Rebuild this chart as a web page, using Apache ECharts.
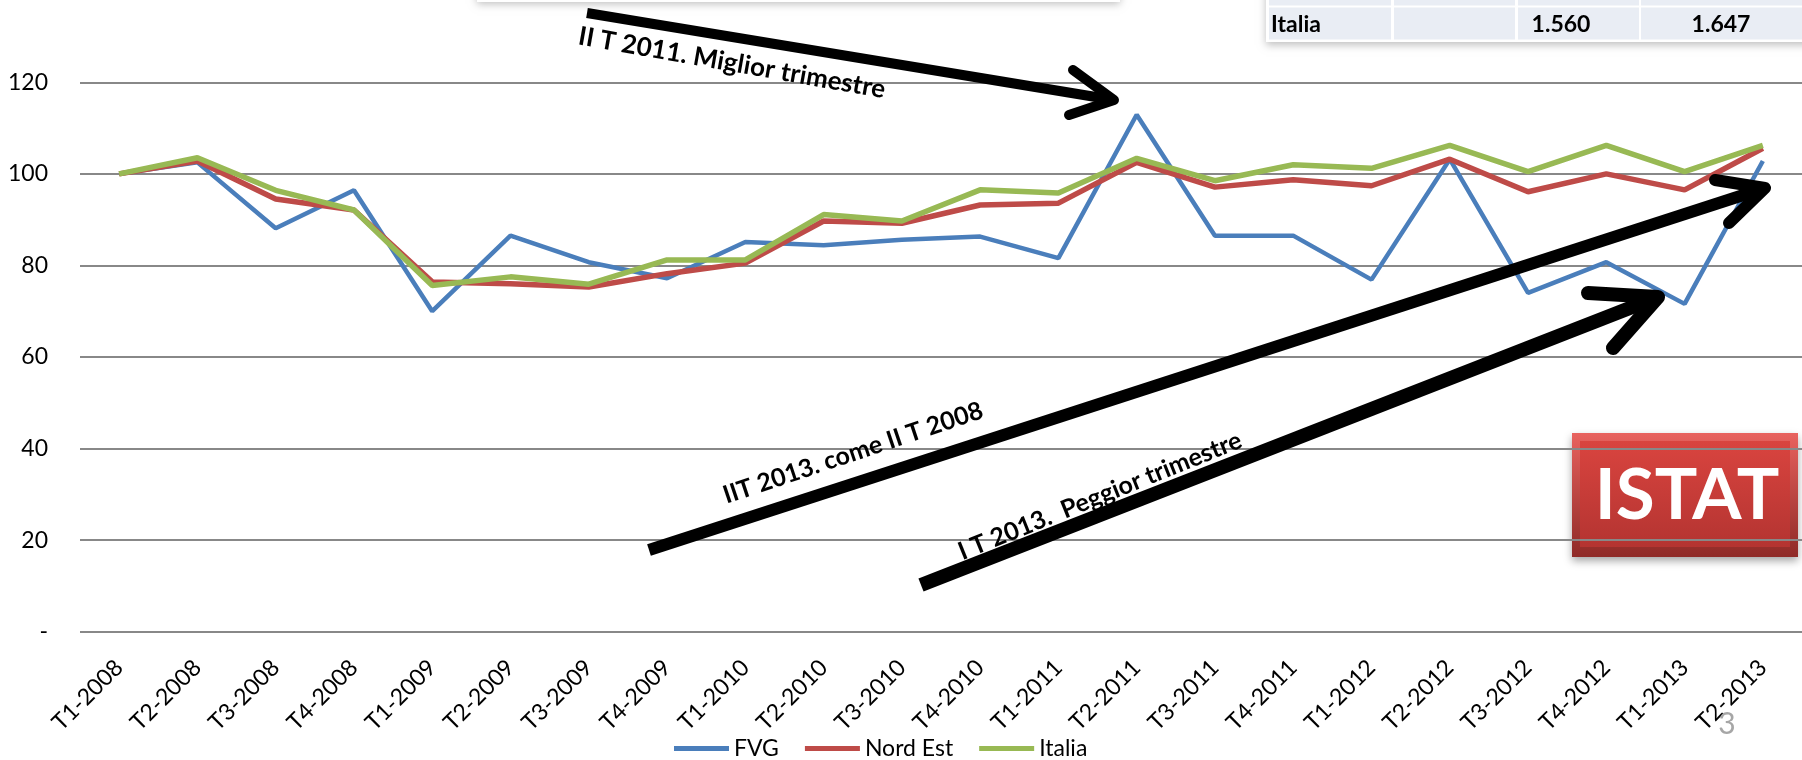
<!DOCTYPE html>
<html>
<head>
<meta charset="utf-8">
<script src="https://cdn.jsdelivr.net/npm/echarts@6.0.0/dist/echarts.min.js"></script>
<style>
  html, body { margin: 0; padding: 0; background: #fff; overflow: hidden; width: 1802px; height: 760px; }
  /* il grafico parte 10px sopra la pagina: la griglia 140 e' fuori vista */
  #main { position: absolute; left: 0; top: -10px; width: 1802px; height: 770px; }
</style>
</head>
<body>
<div id="main"></div>
<script>
// trimestri
const categories = ['T1-2008', 'T2-2008', 'T3-2008', 'T4-2008', 'T1-2009', 'T2-2009', 'T3-2009', 'T4-2009',
  'T1-2010', 'T2-2010', 'T3-2010', 'T4-2010', 'T1-2011', 'T2-2011', 'T3-2011', 'T4-2011',
  'T1-2012', 'T2-2012', 'T3-2012', 'T4-2012', 'T1-2013', 'T2-2013']

const fvg = [100, 102.5, 88.1, 96.4, 70.0, 86.5, 80.7, 77.2, 85.1, 84.4, 85.6, 86.3,
  81.6, 112.9, 86.5, 86.5, 76.9, 103.2, 74.0, 80.7, 71.6, 102.8]
const nordEst = [100, 102.8, 94.5, 92.1, 76.4, 76.0, 75.3, 78.2, 80.5, 89.7, 89.2, 93.2,
  93.6, 102.5, 97.1, 98.7, 97.4, 103.2, 96.1, 100.0, 96.5, 105.6]
const italia = [100, 103.5, 96.4, 92.1, 75.6, 77.5, 75.9, 81.2, 81.2, 91.1, 89.7, 96.5,
  95.8, 103.4, 98.5, 102.0, 101.2, 106.2, 100.5, 106.2, 100.5, 106.2]

const seriesNames = ['FVG', 'Nord Est', 'Italia']
const tableRow = ['Italia', '', '1.560', '1.647']

const FONT = 'Lato, "Noto Sans", sans-serif'
const SHIFT = 10
const deg = (d) => d * Math.PI / 180

const chart = echarts.init(document.getElementById('main'), null, { renderer: 'canvas' })

// frecce disegnate sopra il grafico
function arrow(x1, y1, x2, y2, wings, w) {
  return [
    { type: 'line', z: 100, shape: { x1, y1, x2, y2 },
      style: { stroke: '#000', lineWidth: w, lineCap: 'butt' } },
    { type: 'polyline', z: 100, shape: { points: [wings[0], [x2, y2], wings[1]] },
      style: { stroke: '#000', fill: null, lineWidth: w, lineCap: 'round', lineJoin: 'round' } }
  ]
}

function label(text, x, y, rot, size) {
  return { type: 'text', z: 101, x, y, rotation: deg(rot),
    style: { text, font: `bold ${size}px ${FONT}`, fill: '#000', align: 'center', verticalAlign: 'middle' } }
}

const cols = [[1269, 1391], [1394, 1515], [1518, 1639], [1641, 1810]]
const tableEls = [
  { type: 'rect', z: 90, shape: { x: 1266, y: -40, width: 560, height: 82 },
    style: { fill: '#fff', shadowBlur: 8, shadowColor: 'rgba(0,0,0,0.25)', shadowOffsetY: 3 } }
]
cols.forEach(([a, b]) => {
  tableEls.push({ type: 'rect', z: 91, shape: { x: a, y: -30, width: b - a, height: 35.5 }, style: { fill: '#E9EDF4' } })
  tableEls.push({ type: 'rect', z: 91, shape: { x: a, y: 7.5, width: b - a, height: 32 }, style: { fill: '#E9EDF4' } })
})
tableEls.push({ type: 'text', z: 92, x: 1271, y: 25, style: { text: tableRow[0], font: `bold 23px ${FONT}`, fill: '#000', align: 'left', verticalAlign: 'middle' } })
tableEls.push({ type: 'text', z: 92, x: 1561, y: 25, style: { text: tableRow[2], font: `bold 23px ${FONT}`, fill: '#000', align: 'center', verticalAlign: 'middle' } })
tableEls.push({ type: 'text', z: 92, x: 1721, y: 25, style: { text: tableRow[3], font: `bold 23px ${FONT}`, fill: '#000', align: 'center', verticalAlign: 'middle' } })

const istat = [
  { type: 'rect', z: -1, shape: { x: 1572, y: 433, width: 226, height: 124 },
    style: { fill: new echarts.graphic.LinearGradient(0, 0, 0, 1, [
      { offset: 0, color: '#E8625E' }, { offset: 1, color: '#8F2A27' }]),
      shadowBlur: 8, shadowColor: 'rgba(0,0,0,0.35)', shadowOffsetY: 4 } },
  { type: 'rect', z: -1, shape: { x: 1580, y: 441, width: 210, height: 106 },
    style: { fill: new echarts.graphic.LinearGradient(0, 0, 0, 1, [
      { offset: 0, color: '#D9443F' }, { offset: 1, color: '#B43431' }]) } },
  { type: 'text', z: -1, x: 1687, y: 496,
    style: { text: 'ISTAT', font: `bold 71px ${FONT}`, fill: '#fff', align: 'center', verticalAlign: 'middle' } }
]

chart.setOption({
  animation: false,
  color: ['#4A7EBB', '#BE4B48', '#98B954'],
  grid: { left: 80, right: 0, top: 0.7, bottom: 128.3 },
  legend: {
    data: seriesNames,
    icon: 'rect',
    itemWidth: 55,
    itemHeight: 5,
    itemGap: 26,
    left: 674,
    top: 737 + SHIFT,
    padding: 0,
    textStyle: { fontFamily: FONT, fontSize: 23, color: '#000' }
  },
  xAxis: {
    type: 'category',
    data: categories,
    boundaryGap: true,
    axisLine: { show: false },
    axisTick: { show: false },
    axisLabel: { interval: 0, rotate: 45, margin: 32, fontFamily: FONT, fontSize: 23, color: '#000' }
  },
  yAxis: {
    type: 'value',
    min: 0,
    max: 140,
    interval: 20,
    axisLine: { show: false },
    axisTick: { show: false },
    splitLine: { lineStyle: { color: '#888', width: 2 } },
    axisLabel: {
      margin: 32, fontFamily: FONT, fontSize: 23, color: '#000',
      formatter: (v) => (v === 0 ? '-' : v === 140 ? '' : String(v))
    }
  },
  series: [
    { name: seriesNames[0], type: 'line', data: fvg, symbol: 'none', lineStyle: { width: 4.5 } },
    { name: seriesNames[1], type: 'line', data: nordEst, symbol: 'none', lineStyle: { width: 5.5 } },
    { name: seriesNames[2], type: 'line', data: italia, symbol: 'none', lineStyle: { width: 5.5 } }
  ],
  graphic: { elements: [
    { type: 'group', y: SHIFT, children: [
      { type: 'rect', z: 90, shape: { x: 477, y: -60, width: 643, height: 62 },
        style: { fill: '#fff', shadowBlur: 8, shadowColor: 'rgba(0,0,0,0.25)', shadowOffsetY: 2 } },
      ...tableEls,
      ...arrow(587, 13, 1114, 100, [[1073, 70], [1069, 115]], 10),
      label('II T 2011. Miglior trimestre', 732, 63, -10, 26),
      ...arrow(649, 550, 1765, 188, [[1715, 180], [1729, 223]], 12),
      label('IIT 2013. come II T 2008', 853, 453, 18.5, 25),
      ...arrow(921, 585, 1658, 297, [[1588, 293], [1613, 348]], 14),
      label('I T 2013.  Peggior trimestre', 1100, 496, 22, 25),
      { type: 'text', z: 102, x: 1727, y: 724,
        style: { text: '3', font: `30px ${FONT}`, fill: '#A6A6A6', align: 'center', verticalAlign: 'middle' } }
    ] },
    { type: 'group', y: SHIFT, z: -1, children: istat }
  ] }
})
</script>
</body>
</html>
